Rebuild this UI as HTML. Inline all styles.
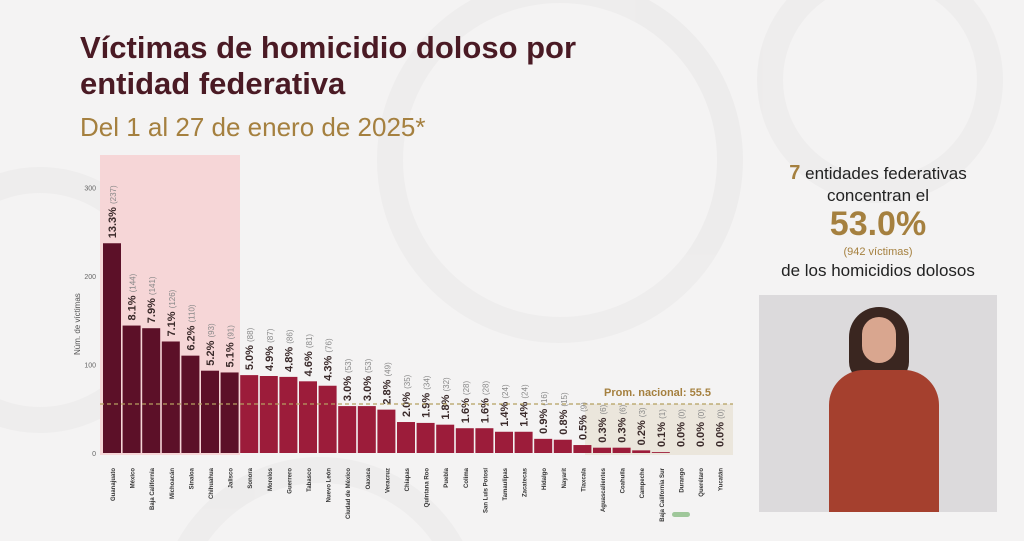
<!DOCTYPE html>
<html><head><meta charset="utf-8"><style>
html,body{margin:0;padding:0;width:1024px;height:541px;overflow:hidden;background:#f4f3f3;font-family:"Liberation Sans",sans-serif;}
.t1{position:absolute;left:80px;top:30px;font-size:31px;font-weight:bold;color:#4a1a24;line-height:36px;}
.t2{position:absolute;left:80px;top:112px;font-size:26px;color:#a5803f;}
.side{position:absolute;left:760px;width:236px;text-align:center;color:#222;}
</style></head><body>
<svg width="1024" height="541" style="position:absolute;left:0;top:0">
<g fill="none" stroke="#ecebeb" stroke-width="26" opacity="0.8">
<circle cx="40" cy="300" r="120"/><circle cx="560" cy="160" r="170"/><circle cx="320" cy="620" r="150"/><circle cx="880" cy="80" r="110"/>
</g>
<rect x="100" y="155" width="140" height="300" fill="#f6d3d4" opacity="0.9"/>
<rect x="585" y="404" width="148" height="51" fill="#ebe6dc"/>
<g id="g"></g>
</svg>
<div class="t1">Víctimas de homicidio doloso por<br>entidad federativa</div>
<div class="t2">Del 1 al 27 de enero de 2025*</div>
<div class="side" style="top:162px;font-size:17px;line-height:22px"><b style="color:#a5803f;font-size:20px">7</b> entidades federativas<br>concentran el</div>
<div class="side" style="top:205px;font-size:34px;font-weight:bold;color:#a5803f">53.0%</div>
<div class="side" style="top:246px;font-size:11px;color:#a5803f">(942 víctimas)</div>
<div class="side" style="top:261px;font-size:17px">de los homicidios dolosos</div>
<div style="position:absolute;left:759px;top:295px;width:238px;height:217px;background:#dcdadc;overflow:hidden">
<div style="position:absolute;left:90px;top:12px;width:60px;height:75px;border-radius:30px 30px 20px 20px;background:#3a2620"></div>
<div style="position:absolute;left:103px;top:22px;width:34px;height:46px;border-radius:17px;background:#d9a68f"></div>
<div style="position:absolute;left:70px;top:75px;width:110px;height:142px;border-radius:35px 35px 0 0;background:#a5402e"></div>
</div>
<script>
var names=["Guanajuato","México","Baja California","Michoacán","Sinaloa","Chihuahua","Jalisco","Sonora","Morelos","Guerrero","Tabasco","Nuevo León","Ciudad de México","Oaxaca","Veracruz","Chiapas","Quintana Roo","Puebla","Colima","San Luis Potosí","Tamaulipas","Zacatecas","Hidalgo","Nayarit","Tlaxcala","Aguascalientes","Coahuila","Campeche","Baja California Sur","Durango","Querétaro","Yucatán"];
var v=[237,144,141,126,110,93,91,88,87,86,81,76,53,53,49,35,34,32,28,28,24,24,16,15,9,6,6,3,1,0,0,0];
var p=["13.3","8.1","7.9","7.1","6.2","5.2","5.1","5.0","4.9","4.8","4.6","4.3","3.0","3.0","2.8","2.0","1.9","1.8","1.6","1.6","1.4","1.4","0.9","0.8","0.5","0.3","0.3","0.2","0.1","0.0","0.0","0.0"];
var s='';
[0,100,200,300].forEach(function(t){var y=453-t*0.885;s+='<text x="96" y="'+(y+3)+'" font-size="7" fill="#666" text-anchor="end">'+t+'</text>';});
s+='<text transform="translate(80,355) rotate(-90)" font-size="8" fill="#555">Núm. de víctimas</text>';
for(var i=0;i<32;i++){var x=103+i*19.6,h=v[i]*0.885,y=453-h;
s+='<rect x="'+x+'" y="'+y+'" width="18" height="'+h+'" fill="'+(i<7?'#5c1028':'#9c1c3a')+'"/>';
var ly=Math.min(y-5,447);
s+='<text transform="translate('+(x+13)+','+ly+') rotate(-90)" font-size="11" font-weight="bold" fill="#3a2a2a">'+p[i]+'% <tspan font-size="8" font-weight="normal" fill="#888">('+v[i]+')</tspan></text>';
s+='<text transform="translate('+(x+12)+',468) rotate(-90)" font-size="6" font-weight="bold" fill="#333" text-anchor="end">'+names[i]+'</text>';}
s+='<line x1="100" y1="404" x2="733" y2="404" stroke="#b5a060" stroke-width="1.2" stroke-dasharray="4,3"/>';
s+='<text x="604" y="396" font-size="11" font-weight="bold" fill="#a5803f">Prom. nacional: 55.5</text>';
s+='<rect x="672" y="512" width="18" height="5" rx="2.5" fill="#9fc79a"/>';
document.getElementById('g').innerHTML=s;
</script>
</body></html>
